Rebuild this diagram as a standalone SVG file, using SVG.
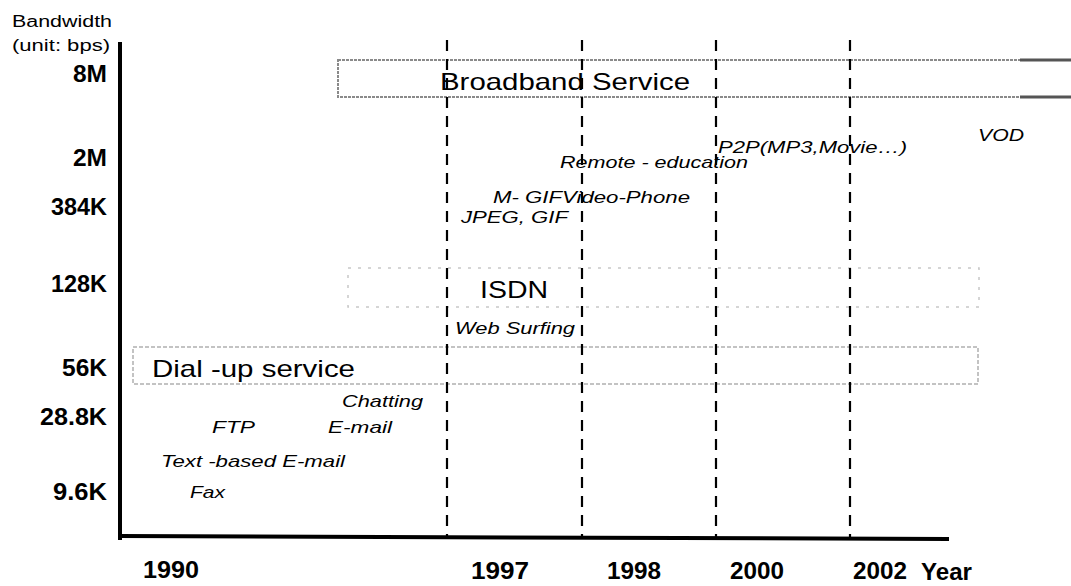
<svg xmlns="http://www.w3.org/2000/svg" width="1071" height="586" viewBox="0 0 1071 586">
<style>
.ax{stroke:#000;stroke-width:4;fill:none}
.dash{stroke:#000;stroke-width:2.2;stroke-dasharray:11 8;fill:none}
.lbl{font-family:"Liberation Sans",Arial,sans-serif;font-weight:bold;font-size:23px;fill:#000}
.yr{font-family:"Liberation Sans",Arial,sans-serif;font-weight:bold;font-size:23px;fill:#000}
.it{font-family:"Liberation Sans",Arial,sans-serif;font-style:italic;font-size:17px;fill:#000}
.big{font-family:"Liberation Sans",Arial,sans-serif;font-size:24px;fill:#000}
.ttl{font-family:"Liberation Sans",Arial,sans-serif;font-size:16px;fill:#000}
</style>
<rect width="1071" height="586" fill="#fff"/>
<g id="boxes">
  <rect x="338" y="60" width="760" height="37" fill="none" stroke="#8a8a8a" stroke-width="2" stroke-dasharray="3 1"/>
  <line x1="1020" y1="60" x2="1071" y2="60" stroke="#555" stroke-width="3"/>
  <line x1="1020" y1="97" x2="1071" y2="97" stroke="#555" stroke-width="3"/>
  <rect x="348" y="268" width="631" height="39" fill="none" stroke="#c8c8c8" stroke-width="1.5" stroke-dasharray="3 7"/>
  <rect x="133" y="347" width="845" height="37" fill="none" stroke="#b0b0b0" stroke-width="1.5" stroke-dasharray="4 2"/>
</g>
<g id="axes">
  <line class="ax" x1="120" y1="42" x2="120" y2="540"/>
  <line class="ax" x1="118" y1="536" x2="949" y2="539"/>
</g>
<g id="grid">
  <line class="dash" x1="447" y1="40" x2="447" y2="536"/>
  <line class="dash" x1="582" y1="40" x2="582" y2="537"/>
  <line class="dash" x1="716" y1="40" x2="716" y2="537"/>
  <line class="dash" x1="850" y1="40" x2="850" y2="538"/>
</g>
<g id="axis-titles">
  <text class="ttl" x="12" y="27" textLength="100" lengthAdjust="spacingAndGlyphs">Bandwidth</text>
  <text class="ttl" x="12" y="51" textLength="98" lengthAdjust="spacingAndGlyphs">(unit: bps)</text>
</g>
<g id="y-labels">
  <text class="lbl" x="73" y="82" textLength="34" lengthAdjust="spacingAndGlyphs">8M</text>
  <text class="lbl" x="73" y="166" textLength="34" lengthAdjust="spacingAndGlyphs">2M</text>
  <text class="lbl" x="51" y="215" textLength="56" lengthAdjust="spacingAndGlyphs">384K</text>
  <text class="lbl" x="51" y="292" textLength="56" lengthAdjust="spacingAndGlyphs">128K</text>
  <text class="lbl" x="62" y="376" textLength="45" lengthAdjust="spacingAndGlyphs">56K</text>
  <text class="lbl" x="40" y="425" textLength="67" lengthAdjust="spacingAndGlyphs">28.8K</text>
  <text class="lbl" x="53" y="500" textLength="54" lengthAdjust="spacingAndGlyphs">9.6K</text>
</g>
<g id="x-labels">
  <text class="yr" x="143" y="578" textLength="56" lengthAdjust="spacingAndGlyphs">1990</text>
  <text class="yr" x="471" y="579" textLength="58" lengthAdjust="spacingAndGlyphs">1997</text>
  <text class="yr" x="607" y="579" textLength="54" lengthAdjust="spacingAndGlyphs">1998</text>
  <text class="yr" x="730" y="579" textLength="54" lengthAdjust="spacingAndGlyphs">2000</text>
  <text class="yr" x="853" y="579" textLength="54" lengthAdjust="spacingAndGlyphs">2002</text>
  <text class="yr" x="921" y="580" textLength="51" lengthAdjust="spacingAndGlyphs">Year</text>
</g>
<g id="services">
  <text class="big" x="440" y="90" textLength="250" lengthAdjust="spacingAndGlyphs">Broadband Service</text>
  <text class="big" x="480" y="298" font-size="28" textLength="68" lengthAdjust="spacingAndGlyphs">ISDN</text>
  <text class="big" x="152" y="377" textLength="203" lengthAdjust="spacingAndGlyphs">Dial -up service</text>
</g>
<g id="applications">
  <text class="it" x="718" y="153" textLength="189" lengthAdjust="spacingAndGlyphs">P2P(MP3,Movie…)</text>
  <text class="it" x="978" y="141" font-size="18" textLength="46" lengthAdjust="spacingAndGlyphs">VOD</text>
  <text class="it" x="560" y="168" textLength="188" lengthAdjust="spacingAndGlyphs">Remote - education</text>
  <text class="it" x="493" y="203" textLength="197" lengthAdjust="spacingAndGlyphs">M- GIFVideo-Phone</text>
  <text class="it" x="461" y="223" textLength="107" lengthAdjust="spacingAndGlyphs">JPEG, GIF</text>
  <text class="it" x="455" y="334" textLength="120" lengthAdjust="spacingAndGlyphs">Web Surfing</text>
  <text class="it" x="342" y="407" textLength="81" lengthAdjust="spacingAndGlyphs">Chatting</text>
  <text class="it" x="212" y="433" textLength="43" lengthAdjust="spacingAndGlyphs">FTP</text>
  <text class="it" x="328" y="433" textLength="64" lengthAdjust="spacingAndGlyphs">E-mail</text>
  <text class="it" x="161" y="467" textLength="184" lengthAdjust="spacingAndGlyphs">Text -based E-mail</text>
  <text class="it" x="190" y="498" textLength="35" lengthAdjust="spacingAndGlyphs">Fax</text>
</g>
</svg>
